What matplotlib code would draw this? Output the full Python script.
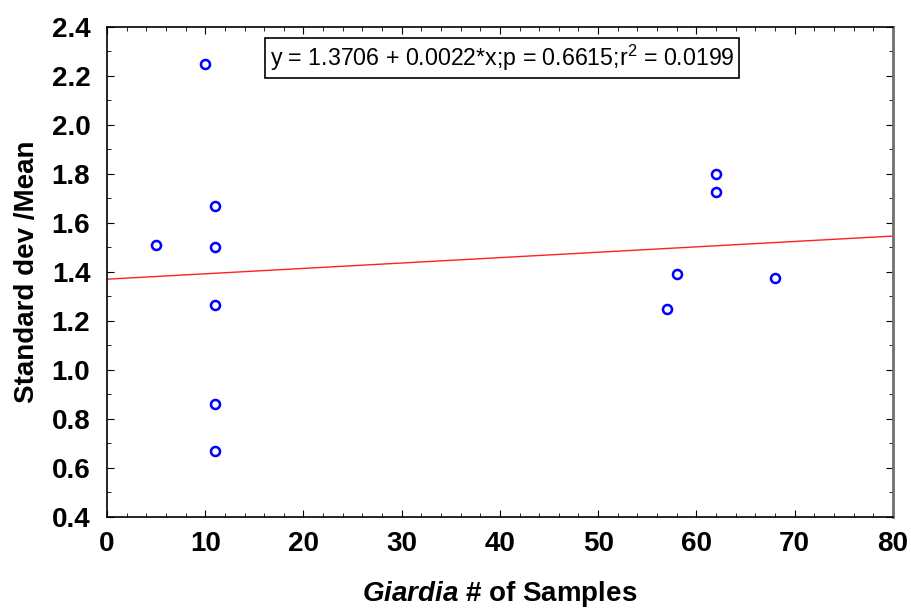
import numpy as np
import matplotlib
matplotlib.use("Agg")
import matplotlib.pyplot as plt
from matplotlib.ticker import MultipleLocator, FormatStrFormatter

plt.rcParams['font.family'] = ['Liberation Sans', 'DejaVu Sans']
plt.rcParams['mathtext.fontset'] = 'custom'
plt.rcParams['mathtext.rm'] = 'Liberation Sans'
plt.rcParams['mathtext.it'] = 'Liberation Sans:italic:bold'
plt.rcParams['mathtext.bf'] = 'Liberation Sans:bold'

# data
samples = [5, 10, 11, 11, 11, 11, 11, 57, 58, 62, 62, 68]
sd_mean = [1.51, 2.25, 1.67, 1.50, 1.265, 0.86, 0.67, 1.25, 1.39, 1.80, 1.725, 1.375]

# fit from the annotation
intercept = 1.3706
slope = 0.0022
fit_label = r"y = 1.3706 + 0.0022*x;p = 0.6615;r$^\mathrm{2}$ = 0.0199"

fig = plt.figure(figsize=(9.12, 6.08), dpi=100)
ax = fig.add_axes([0.1173, 0.1497, 0.8617, 0.8059])

ax.plot(samples, sd_mean, 'o', mfc='none', mec='#0000ff', ms=6.5, mew=1.8, ls='none')

xs = np.array([0, 80])
ax.plot(xs, intercept + slope * xs, color='#ff2020', lw=1)

ax.set_xlim(0, 80)
ax.set_ylim(0.4, 2.4)
ax.xaxis.set_major_locator(MultipleLocator(10))
ax.xaxis.set_minor_locator(MultipleLocator(2))
ax.yaxis.set_major_locator(MultipleLocator(0.2))
ax.yaxis.set_minor_locator(MultipleLocator(0.1))
ax.yaxis.set_major_formatter(FormatStrFormatter('%.1f'))
ax.tick_params(which='both', direction='in', top=True, right=True)
ax.tick_params(which='major', length=5, labelsize=20, pad=10)
ax.tick_params(axis='y', which='major', pad=12)
ax.tick_params(which='minor', length=3)
for lab in ax.get_xticklabels() + ax.get_yticklabels():
    lab.set_fontweight('bold')
for s in ax.spines.values():
    s.set_linewidth(1.2)
ax.spines['right'].set_color('#707070')
ax.spines['right'].set_linewidth(2)

ax.set_ylabel('Standard dev /Mean', fontsize=20, fontweight='bold', labelpad=8)
ax.set_xlabel(r'$\it{Giardia}$ # of Samples', fontsize=20, fontweight='bold', labelpad=16)

ax.text(40.2, 2.273, fit_label, fontsize=16.7, ha='center', va='center',
        bbox=dict(boxstyle='square,pad=0.2', fc='white', ec='black', lw=1.2))

fig.savefig('out.png', dpi=100)
